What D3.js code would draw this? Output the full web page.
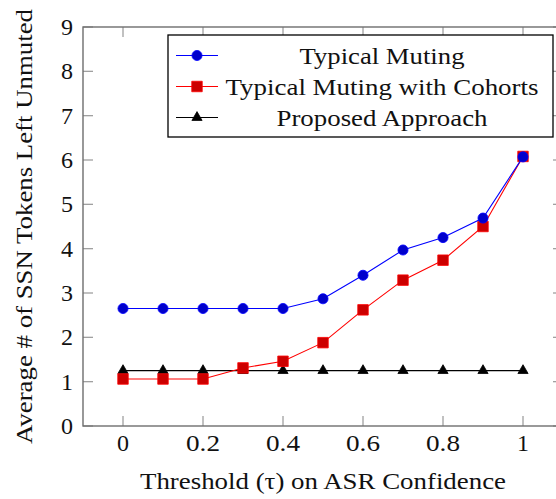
<!DOCTYPE html>
<html lang="en">
  <head>
    <meta charset="utf-8" />
    <title>SSN tokens left unmuted</title>
    <script src="https://d3js.org/d3.v7.min.js"></script>
    <style>
      body { margin: 0; background: #fff; }
      svg text { font-family: "Liberation Serif", "DejaVu Serif", serif; fill: #111; }
    </style>
  </head>
  <body>
    <div id="my_dataviz"></div>
  <script>
      // data
      const thresholds = [0, 0.1, 0.2, 0.3, 0.4, 0.5, 0.6, 0.7, 0.8, 0.9, 1.0]
      const typicalMuting = [2.65, 2.65, 2.65, 2.65, 2.65, 2.87, 3.40, 3.97, 4.25, 4.69, 6.07]
      const cohortMuting = [1.06, 1.06, 1.06, 1.31, 1.46, 1.88, 2.62, 3.29, 3.74, 4.50, 6.08]
      const proposed = [1.25, 1.25, 1.25, 1.25, 1.25, 1.25, 1.25, 1.25, 1.25, 1.25, 1.25]
      const xTicks = [0, 0.2, 0.4, 0.6, 0.8, 1]
      const yTicks = [0, 1, 2, 3, 4, 5, 6, 7, 8, 9]
      const seriesNames = ["Typical Muting", "Typical Muting with Cohorts", "Proposed Approach"]

      const W = 556, H = 499
      const margin = {top: 27, right: -7, bottom: 73, left: 83},
          width = W - margin.left - margin.right,
          height = H - margin.top - margin.bottom

      const svg = d3.select("#my_dataviz")
        .append("svg")
          .attr("width", W)
          .attr("height", H)
        .append("g")
          .attr("transform", `translate(${margin.left}, ${margin.top})`)

      const x = d3.scaleLinear().domain([-0.1, 1.1]).range([0, width])
      const y = d3.scaleLinear().domain([0, 9]).range([height, 0])

      const tickLen = 10
      const tickColor = "#a0a0a0"

      // inward ticks on all four sides
      function ticks(g, vals, horiz, at, dir) {
        g.selectAll("line")
          .data(vals)
          .join("line")
            .attr("x1", d => horiz ? x(d) : at)
            .attr("x2", d => horiz ? x(d) : at + dir * tickLen)
            .attr("y1", d => horiz ? at : y(d))
            .attr("y2", d => horiz ? at + dir * tickLen : y(d))
            .attr("stroke", tickColor)
            .attr("stroke-width", 1.3)
      }
      ticks(svg.append("g"), xTicks, true, height, -1)
      ticks(svg.append("g"), xTicks, true, 0, 1)
      ticks(svg.append("g"), yTicks, false, 0, 1)
      ticks(svg.append("g"), yTicks, false, width, -1)

      // axis frame
      svg.append("rect")
        .attr("x", 0).attr("y", 0)
        .attr("width", width).attr("height", height)
        .attr("fill", "none")
        .attr("stroke", "#6e6e6e")
        .attr("stroke-width", 1.4)

      // tick labels
      svg.append("g")
        .selectAll("text")
        .data(xTicks)
        .join("text")
          .attr("x", d => x(d))
          .attr("y", height + 25)
          .attr("text-anchor", "middle")
          .style("font-size", "23px")
          .attr("textLength", d => String(d).length === 1 ? 12 : 34)
          .attr("lengthAdjust", "spacingAndGlyphs")
          .text(d => d3.format("")(d))
      svg.append("g")
        .selectAll("text")
        .data(yTicks)
        .join("text")
          .attr("x", -10)
          .attr("y", d => y(d) + 8)
          .attr("text-anchor", "end")
          .style("font-size", "23px")
          .attr("textLength", 12)
          .attr("lengthAdjust", "spacingAndGlyphs")
          .text(d => d)

      // axis labels
      svg.append("text")
        .attr("x", 323 - margin.left)
        .attr("y", height + 63)
        .attr("text-anchor", "middle")
        .style("font-size", "23px")
        .attr("textLength", 366)
        .attr("lengthAdjust", "spacingAndGlyphs")
        .text("Threshold (\u03C4) on ASR Confidence")
      svg.append("text")
        .attr("transform", "rotate(-90)")
        .attr("x", -(226.5 - margin.top))
        .attr("y", -51)
        .attr("text-anchor", "middle")
        .style("font-size", "23px")
        .attr("textLength", 435)
        .attr("lengthAdjust", "spacingAndGlyphs")
        .text("Average # of SSN Tokens Left Unmuted")

      const series = [
        {name: seriesNames[0], values: typicalMuting, line: "#0000ff", fill: "#0000cc", mark: "circle", len: 165},
        {name: seriesNames[1], values: cohortMuting, line: "#ff0000", fill: "#cc0000", mark: "square", len: 313},
        {name: seriesNames[2], values: proposed, line: "#000000", fill: "#000000", mark: "triangle", len: 211}
      ]

      const symbols = {
        circle: d3.symbol(d3.symbolCircle, 80),
        square: d3.symbol(d3.symbolSquare, 110),
        triangle: d3.symbol(d3.symbolTriangle, 45)
      }

      const line = d3.line()
        .x(d => x(d[0]))
        .y(d => y(d[1]))

      series.slice().reverse().forEach(s => {
        const pts = thresholds.map((t, i) => [t, s.values[i]])
        svg.append("path")
          .datum(pts)
          .attr("fill", "none")
          .attr("stroke", s.line)
          .attr("stroke-width", 1.1)
          .attr("d", line)
        svg.append("g")
          .selectAll("path")
          .data(pts)
          .join("path")
            .attr("transform", d => `translate(${x(d[0])}, ${y(d[1])})`)
            .attr("d", symbols[s.mark])
            .attr("fill", s.fill)
            .attr("stroke", s.line)
            .attr("stroke-width", 0.8)
      })

      // legend
      const lg = svg.append("g")
        .attr("transform", `translate(${168 - margin.left}, ${35 - margin.top})`)
      lg.append("rect")
        .attr("width", 385)
        .attr("height", 102)
        .attr("fill", "#fff")
        .attr("stroke", "#000")
        .attr("stroke-width", 1.3)
      series.forEach((s, i) => {
        const ry = 20.5 + i * 31
        lg.append("line")
          .attr("x1", 8).attr("x2", 50)
          .attr("y1", ry).attr("y2", ry)
          .attr("stroke", s.line)
          .attr("stroke-width", 1.1)
        lg.append("path")
          .attr("transform", `translate(29, ${ry})`)
          .attr("d", symbols[s.mark])
          .attr("fill", s.fill)
          .attr("stroke", s.line)
          .attr("stroke-width", 0.8)
        lg.append("text")
          .attr("x", 214)
          .attr("y", ry + 8)
          .attr("text-anchor", "middle")
          .style("font-size", "24px")
          .attr("textLength", s.len)
          .attr("lengthAdjust", "spacingAndGlyphs")
          .text(s.name)
      })
  </script>
  </body>
</html>
